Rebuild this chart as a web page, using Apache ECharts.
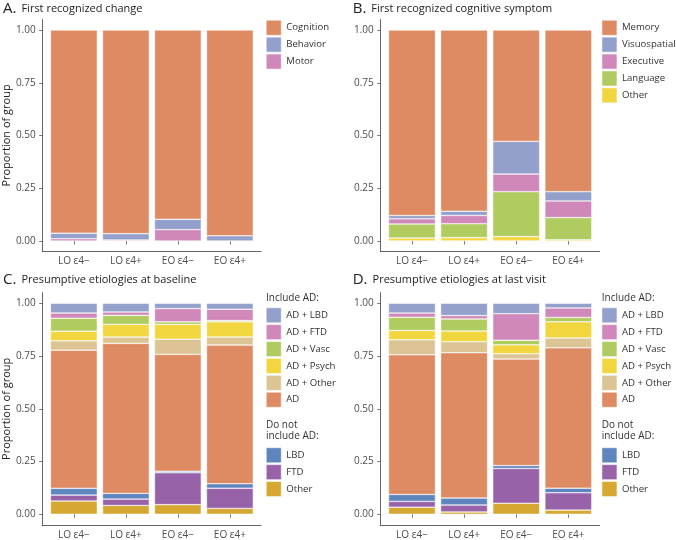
<!DOCTYPE html>
<html><head><meta charset="utf-8">
<script src="https://cdn.jsdelivr.net/npm/echarts@6/dist/echarts.min.js"></script>
<style>html,body{margin:0;padding:0;background:#fff}#c{width:676px;height:540px}</style>
</head><body><div id="c"></div>
<script>
// ---------- data ----------
const categories = ['LO ε4−', 'LO ε4+', 'EO ε4−', 'EO ε4+'];
const yTicks = [0, 0.25, 0.5, 0.75, 1];

// Panel A: First recognized change
const aCognition = [0.963, 0.965, 0.897, 0.975];
const aBehavior  = [0.026, 0.030, 0.049, 0.025];
const aMotor     = [0.011, 0.005, 0.054, 0.000];

// Panel B: First recognized cognitive symptom
const bMemory       = [0.879, 0.859, 0.528, 0.766];
const bVisuospatial = [0.016, 0.020, 0.155, 0.044];
const bExecutive    = [0.024, 0.039, 0.083, 0.079];
const bLanguage     = [0.067, 0.066, 0.213, 0.105];
const bOther        = [0.014, 0.016, 0.021, 0.006];

// Panel C: Presumptive etiologies at baseline
const cADLBD   = [0.046, 0.041, 0.025, 0.028];
const cADFTD   = [0.025, 0.016, 0.063, 0.054];
const cADVasc  = [0.061, 0.043, 0.012, 0.006];
const cADPsych = [0.046, 0.060, 0.070, 0.072];
const cADOther = [0.044, 0.030, 0.072, 0.038];
const cAD      = [0.655, 0.711, 0.554, 0.657];
const cLBD     = [0.032, 0.027, 0.007, 0.021];
const cFTD     = [0.028, 0.030, 0.151, 0.096];
const cOther   = [0.063, 0.042, 0.046, 0.028];

// Panel D: Presumptive etiologies at last visit
const dADLBD   = [0.046, 0.058, 0.049, 0.022];
const dADFTD   = [0.020, 0.016, 0.126, 0.045];
const dADVasc  = [0.063, 0.057, 0.022, 0.021];
const dADPsych = [0.044, 0.051, 0.042, 0.076];
const dADOther = [0.071, 0.052, 0.025, 0.047];
const dAD      = [0.662, 0.689, 0.505, 0.665];
const dLBD     = [0.033, 0.033, 0.014, 0.022];
const dFTD     = [0.027, 0.033, 0.165, 0.082];
const dOther   = [0.034, 0.011, 0.052, 0.020];

// ---------- styles ----------
const COL = {
  orange: '#DE8B64', lav: '#93A0CB', pink: '#CF88B9', green: '#B0CC60',
  yellow: '#F2D640', tan: '#DCC494', blue: '#5E85BE', purple: '#9862A8', gold: '#D6A832'
};
const FONT = 'Open Sans';
const AXCOL = '#555';
const TXT = '#4d4d4d';

const rows = [
  { barTop: 30, barH: 211, frameTop: 19.5, frameH: 232 },
  { barTop: 303.3, barH: 211.7, frameTop: 292.7, frameH: 233 }
];
const cols = [
  { barLeft: 47.4, frameLeft: 42.2 },
  { barLeft: 385.9, frameLeft: 380.7 }
];
const BAR_W = 208.5, FRAME_W = 218.9;

const grid = [], xAxis = [], yAxis = [], series = [];

function addPanel(p, r, c, showYName, segs) {
  const R = rows[r], C = cols[c];
  grid.push({ left: C.barLeft, top: R.barTop, width: BAR_W, height: R.barH, containLabel: false });
  grid.push({ left: C.frameLeft, top: R.frameTop, width: FRAME_W, height: R.frameH, containLabel: false });
  const gi = grid.length - 2;
  xAxis.push({
    gridIndex: gi, type: 'category', data: categories, offset: R.frameTop + R.frameH - (R.barTop + R.barH),
    axisLine: { show: false },
    axisTick: { show: true, alignWithLabel: true, length: 3.5, lineStyle: { color: AXCOL, width: 0.8 } },
    axisLabel: { color: TXT, fontSize: 10, fontFamily: FONT, margin: 5 }
  });
  xAxis.push({
    gridIndex: gi + 1, type: 'value', min: 0, max: 1,
    axisLine: { show: true, lineStyle: { color: AXCOL, width: 0.9 } },
    axisTick: { show: false }, axisLabel: { show: false }, splitLine: { show: false }
  });
  yAxis.push({
    gridIndex: gi, type: 'value', min: 0, max: 1, interval: 0.25, offset: C.barLeft - C.frameLeft,
    axisLine: { show: false },
    axisTick: { show: true, length: 3.5, lineStyle: { color: AXCOL, width: 0.8 } },
    axisLabel: { color: TXT, fontSize: 10, fontFamily: FONT, margin: 7, formatter: v => v.toFixed(2) },
    splitLine: { show: false },
    name: showYName ? 'Proportion of group' : '', nameLocation: 'middle', nameGap: 29,
    nameTextStyle: { color: '#222', fontSize: 11, fontFamily: FONT }
  });
  yAxis.push({
    gridIndex: gi + 1, type: 'value', min: 0, max: 1,
    axisLine: { show: true, lineStyle: { color: AXCOL, width: 0.9 } },
    axisTick: { show: false }, axisLabel: { show: false }, splitLine: { show: false }
  });
  segs.forEach(s => {
    series.push({
      type: 'bar', name: s[0], data: s[1], stack: 'p' + p,
      xAxisIndex: gi, yAxisIndex: gi, barCategoryGap: '10%',
      itemStyle: { color: s[2], borderColor: '#fff', borderWidth: 0.5 },
      emphasis: { disabled: true }, animation: false
    });
  });
}

addPanel(0, 0, 0, true, [
  ['Motor', aMotor, COL.pink], ['Behavior', aBehavior, COL.lav], ['Cognition', aCognition, COL.orange]
]);
addPanel(1, 0, 1, false, [
  ['Other', bOther, COL.yellow], ['Language', bLanguage, COL.green], ['Executive', bExecutive, COL.pink],
  ['Visuospatial', bVisuospatial, COL.lav], ['Memory', bMemory, COL.orange]
]);
addPanel(2, 1, 0, true, [
  ['Other', cOther, COL.gold], ['FTD', cFTD, COL.purple], ['LBD', cLBD, COL.blue], ['AD', cAD, COL.orange],
  ['AD + Other', cADOther, COL.tan], ['AD + Psych', cADPsych, COL.yellow], ['AD + Vasc', cADVasc, COL.green],
  ['AD + FTD', cADFTD, COL.pink], ['AD + LBD', cADLBD, COL.lav]
]);
addPanel(3, 1, 1, false, [
  ['Other', dOther, COL.gold], ['FTD', dFTD, COL.purple], ['LBD', dLBD, COL.blue], ['AD', dAD, COL.orange],
  ['AD + Other', dADOther, COL.tan], ['AD + Psych', dADPsych, COL.yellow], ['AD + Vasc', dADVasc, COL.green],
  ['AD + FTD', dADFTD, COL.pink], ['AD + LBD', dADLBD, COL.lav]
]);

function legendItems(list) {
  return list.map(([n, c]) => ({ name: n, icon: 'rect', itemStyle: { color: c, borderColor: '#fff', borderWidth: 0.5 } }));
}
function mkLegend(left, top, items) {
  return {
    left: left, top: top, orient: 'vertical', itemWidth: 15, itemHeight: 15, itemGap: 1.4,
    selectedMode: false, padding: 0,
    textStyle: { color: '#333', fontSize: 9.6, fontFamily: FONT, padding: [0, 0, 0, 0] },
    data: legendItems(items)
  };
}
const incl = [['AD + LBD', COL.lav], ['AD + FTD', COL.pink], ['AD + Vasc', COL.green],
  ['AD + Psych', COL.yellow], ['AD + Other', COL.tan], ['AD', COL.orange]];
const notIncl = [['LBD', COL.blue], ['FTD', COL.purple], ['Other', COL.gold]];
const legend = [
  mkLegend(266, 20, [['Cognition', COL.orange], ['Behavior', COL.lav], ['Motor', COL.pink]]),
  mkLegend(601.7, 20, [['Memory', COL.orange], ['Visuospatial', COL.lav], ['Executive', COL.pink],
    ['Language', COL.green], ['Other', COL.yellow]]),
  mkLegend(266, 307.5, incl),
  mkLegend(266, 447.5, notIncl),
  mkLegend(601.7, 307.5, incl),
  mkLegend(601.7, 447.5, notIncl)
];

function panelTitle(left, top, letter, text) {
  return {
    left: left, top: top, padding: 0,
    text: '{a|' + letter + '} {b|' + text + '}',
    textStyle: { fontWeight: 'normal', rich: {
      a: { fontSize: 15, fontFamily: FONT, color: '#222', fontWeight: 'normal' },
      b: { fontSize: 11, fontFamily: FONT, color: '#222', fontWeight: 'normal' }
    } }
  };
}
function smallTitle(left, top, text) {
  return { left: left, top: top, padding: 0, text: text,
    textStyle: { fontSize: 10, fontFamily: FONT, color: '#333', fontWeight: 'normal', lineHeight: 11 } };
}
const title = [
  panelTitle(3, 0, 'A.', 'First recognized change'),
  panelTitle(352.7, 0, 'B.', 'First recognized cognitive symptom'),
  panelTitle(3, 271, 'C.', 'Presumptive etiologies at baseline'),
  panelTitle(352.7, 271, 'D.', 'Presumptive etiologies at last visit'),
  smallTitle(266, 293, 'Include AD:'),
  smallTitle(601.7, 293, 'Include AD:'),
  smallTitle(266, 420, 'Do not\ninclude AD:'),
  smallTitle(601.7, 420, 'Do not\ninclude AD:')
];

const chart = echarts.init(document.getElementById('c'), null, { renderer: 'canvas' });
chart.setOption({ animation: false, backgroundColor: '#fff', title, legend, grid, xAxis, yAxis, series });
</script></body></html>
